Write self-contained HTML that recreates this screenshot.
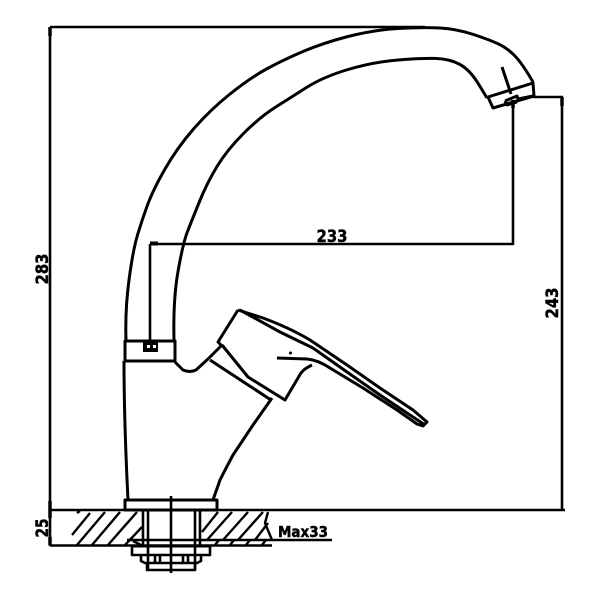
<!DOCTYPE html>
<html><head><meta charset="utf-8"><style>
html,body{margin:0;padding:0;background:#fff}
svg{display:block}
text{font-family:"DejaVu Sans",sans-serif;font-weight:bold;font-size:17px;fill:#000;stroke:#000;stroke-width:.5px}
</style></head><body>
<svg width="600" height="600" viewBox="0 0 600 600" fill="none" stroke="#000" stroke-width="3" stroke-linejoin="round">
<!-- dimensions -->
<path d="M50 27H425M50 27V546M50 510H565M50 545.500H272M127 540H332M562 97V510M533 97H563M513 100V245M150 244H513M150 244V342" stroke-width="2.600"/>
<path d="M150 243.500L158 243.500" stroke-width="4"/>
<path d="M50 27V36M50 501V518M50 537V545M562 97V106M513 100V108" stroke-width="3.500"/>
<!-- spout -->
<path d="M126 340Q125 310 129 280Q133 250 137.500 235Q142 220 147.500 205Q153 190 165 169Q177 148 193.500 129Q210 110 230 94Q250 78 266.500 69Q283 60 303 51.500Q323 43 348 36.500Q373 30 398 28.500Q423 27 440 28Q457 29 473.500 34.500Q490 40 498.500 44Q507 48 514.500 55.500Q522 63 533 82"/>
<path d="M174 340Q173 300 178 271.500Q183 243 187.500 231.500Q192 220 199.500 201.500Q207 183 217 166.500Q227 150 243.500 133.500Q260 117 275 107.500Q290 98 306.500 87.500Q323 77 348 69.500Q373 62 398 60Q423 58 436.500 58.500Q450 59 460 64.500Q470 70 478.500 84L487 98"/>
<path d="M488 97L533 83L534 96L493 108L488 97M502 67L511 94M505 101L517 96L518 99L533 96M505 101L507 105L517 102"/>
<!-- collar -->
<path d="M125 341H175V361H125Z"/>
<rect x="143" y="342" width="15" height="10" fill="#000" stroke="none"/>
<rect x="147" y="345" width="3" height="3" fill="#fff" stroke="none"/><rect x="153" y="345" width="3" height="3" fill="#fff" stroke="none"/>
<!-- body -->
<path d="M124 361Q124 420 128 500M175 362L183 370Q190 373 196 370L208 359L222 345M210 360L271 400M272 398L253 425L233 455Q225 470 220 480L213 500"/>
<rect x="125" y="500" width="92" height="10"/>
<!-- handle -->
<path d="M222 346L218 342L238 310M222 345L248 377L285 400L298 378C302 370 306 368 312 365"/>
<path d="M238 310L263 318Q290 328 310 340L347 365L380 388L413 410L427 422L423 426L417 424L397 410L363 388L330 368Q318 360 307 359L277 358" stroke-width="3"/>
<path d="M240 310L280 332L313 348L347 372L380 395L413 417L425 425" stroke-width="3"/>
<circle cx="290.500" cy="353" r="1.500" fill="#000" stroke="none"/>
<!-- hatching -->
<path d="M72 535L90 513M77 545L105 512M92 545L120 512M108 545L137 512M125 545L142 527M202 532L218 512M207 540L232 512M223 540L248 512M238 540L263 512M255 540L268 523M268 512L265 523L272 540M215 545L219 540M230 545L234 540M246 545L250 540M262 545L266 540M77 513L80 511" stroke-width="2.400"/>
<!-- mount -->
<path d="M143 510V545M148 510V569M195 510V569M200 510V545M171 496V573" stroke-width="2.600"/>
<path d="M133 541L143 546M132 546V555H210V546M141 555V561L145 563H197L201 561V555M147 563V570H195V563M155 555V563M160 555V563M183 555V563M188 555V563" stroke-width="2.600"/>
<path d="M132 546H210" stroke-width="3"/>
<!-- labels -->
<text x="332" y="242" text-anchor="middle" textLength="31" lengthAdjust="spacingAndGlyphs">233</text>
<text transform="translate(48,269) rotate(-90)" text-anchor="middle" textLength="31" lengthAdjust="spacingAndGlyphs">283</text>
<text transform="translate(558,303) rotate(-90)" text-anchor="middle" textLength="31" lengthAdjust="spacingAndGlyphs">243</text>
<text transform="translate(48,528) rotate(-90)" text-anchor="middle" textLength="19" lengthAdjust="spacingAndGlyphs">25</text>
<text x="278" y="537" textLength="50" lengthAdjust="spacingAndGlyphs" style="font-size:15px">Max33</text>
</svg>
</body></html>
